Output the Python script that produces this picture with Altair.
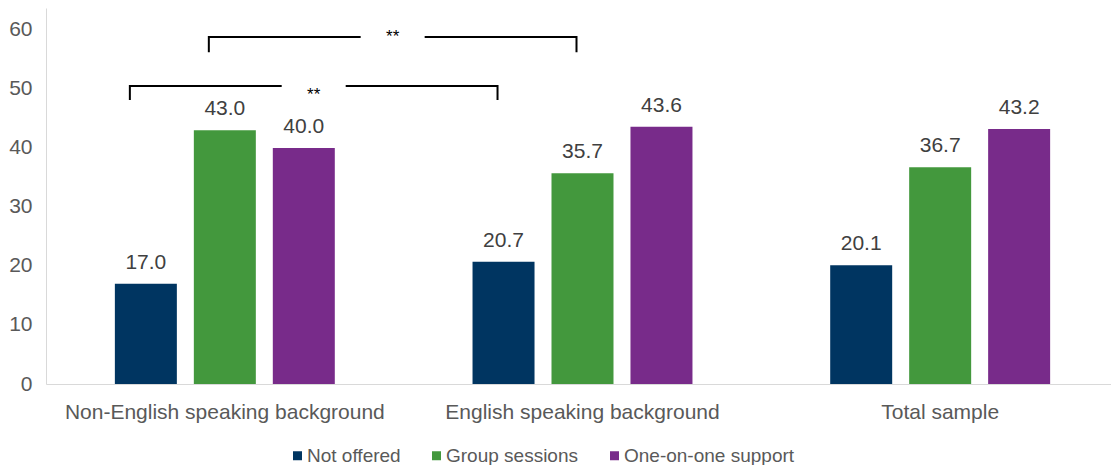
import altair as alt
import pandas as pd

# ---- data ----
categories = ["Non-English speaking background", "English speaking background", "Total sample"]
series = ["Not offered", "Group sessions", "One-on-one support"]
not_offered = [17.0, 20.7, 20.1]
group_sessions = [43.0, 35.7, 36.7]
one_on_one = [40.0, 43.6, 43.2]
colors = ["#003561", "#43983D", "#782B8A"]

# significance brackets (compare one series across two categories)
bracket_series = ["Not offered", "Group sessions"]
bracket_from = ["Non-English speaking background", "Non-English speaking background"]
bracket_to = ["English speaking background", "English speaking background"]
bracket_top = [50.5, 58.8]
bracket_bottom = [48.1, 56.2]
bracket_label_y = [48.1, 58.0]
bracket_label = ["**", "**"]

# ---- layout / style ----
W, H = 1065, 376          # visible plot area (fits the 1103px page content width)
RANGE_W = 1073            # band range runs slightly past the right edge, as in the reference
YMAX = 63.7
PAD_INNER, PAD_OUTER = 0.215, 0.872
GAP_PX = 32
END_PAD_PX = 5
FONT = "Liberation Sans"

rows = []
for cat, a, b, c in zip(categories, not_offered, group_sessions, one_on_one):
    for s, v in zip(series, [a, b, c]):
        rows.append({"category": cat, "series": s, "value": v})
bars_df = pd.DataFrame(rows)

# bar centres in "category units" (x domain [0, 3]) derived from band layout
step_u = 1.0 / (len(series) - PAD_INNER + 2 * PAD_OUTER)
px_u = len(categories) / RANGE_W


def centre(cat, s):
    i = categories.index(cat)
    j = series.index(s)
    return i + step_u * (PAD_OUTER + j + (1 - PAD_INNER) / 2)


gap_u = GAP_PX * px_u
end_u = END_PAD_PX * px_u
line_rows, text_rows = [], []
for k, (s, f, t, top, bot, ly, lab) in enumerate(
    zip(bracket_series, bracket_from, bracket_to, bracket_top, bracket_bottom, bracket_label_y, bracket_label)
):
    xl, xr = centre(f, s) - end_u, centre(t, s) + end_u
    mid = (xl + xr) / 2
    for o, (bx, v) in enumerate([(xl, bot), (xl, top), (mid - gap_u, top)]):
        line_rows.append({"seg": f"{k}a", "ord": o, "bx": bx, "value": v})
    for o, (bx, v) in enumerate([(mid + gap_u, top), (xr, top), (xr, bot)]):
        line_rows.append({"seg": f"{k}b", "ord": o, "bx": bx, "value": v})
    text_rows.append({"bx": mid, "value": ly, "label": lab})
lines_df = pd.DataFrame(line_rows)
stars_df = pd.DataFrame(text_rows)

yenc = alt.Y(
    "value:Q",
    scale=alt.Scale(domain=[0, YMAX], nice=False),
    axis=alt.Axis(
        values=[0, 10, 20, 30, 40, 50, 60],
        grid=False,
        ticks=False,
        title=None,
        domainColor="#D9D9D9",
        labelFontSize=21,
        labelColor="#595959",
        labelFont=FONT,
        labelPadding=14,
    ),
)
band_scale = alt.Scale(paddingInner=0, paddingOuter=0, range=[0, RANGE_W])
xband = alt.X(
    "category:N",
    sort=categories,
    scale=band_scale,
    axis=alt.Axis(
        title=None,
        ticks=False,
        labelAngle=0,
        labelLimit=0,
        domainColor="#D9D9D9",
        labelFontSize=21,
        labelColor="#595959",
        labelFont=FONT,
        labelPadding=17,
    ),
)
xband_noaxis = alt.X("category:N", sort=categories, scale=band_scale, axis=None)
xoff = alt.XOffset(
    "series:N", sort=series, scale=alt.Scale(paddingInner=PAD_INNER, paddingOuter=PAD_OUTER)
)

bars = alt.Chart(bars_df).mark_bar().encode(
    x=xband,
    xOffset=xoff,
    y=yenc,
    color=alt.Color(
        "series:N",
        sort=series,
        scale=alt.Scale(domain=series, range=colors),
        legend=alt.Legend(
            title=None,
            orient="none",
            direction="horizontal",
            legendX=242,
            legendY=438,
            padding=0,
            symbolType="square",
            symbolSize=81,
            symbolStrokeWidth=0,
            labelFontSize=19,
            labelColor="#595959",
            labelFont=FONT,
            labelOffset=0,
            labelLimit=0,
            columnPadding=26,
        ),
    ),
)

values = alt.Chart(bars_df).mark_text(
    dy=-15, baseline="alphabetic", fontSize=21, color="#404040", font=FONT
).encode(
    x=xband_noaxis,
    xOffset=xoff,
    y=yenc,
    text=alt.Text("value:Q", format=".1f"),
)

bx = alt.X(
    "bx:Q",
    scale=alt.Scale(domain=[0, len(categories)], range=[0, RANGE_W], nice=False, zero=False),
    axis=None,
)

brackets = alt.Chart(lines_df).mark_line(
    color="black", strokeWidth=2, strokeJoin="miter", strokeCap="butt", xOffset=-11
).encode(
    x=bx,
    y=yenc,
    detail="seg:N",
    order="ord:Q",
)

stars = alt.Chart(stars_df).mark_text(
    baseline="alphabetic", fontSize=17, color="black", font=FONT, xOffset=-11
).encode(
    x=bx,
    y=yenc,
    text="label:N",
)

chart = (
    alt.layer(bars, values, brackets, stars)
    .resolve_scale(x="independent")
    .properties(
        width=W,
        height=H,
        autosize=alt.AutoSizeParams(type="none"),
        padding={"left": 38, "top": 0, "right": 0, "bottom": 81},
    )
    .configure_view(stroke=None)
)

chart.save("out.html", embed_options={"renderer": "svg", "actions": False})
